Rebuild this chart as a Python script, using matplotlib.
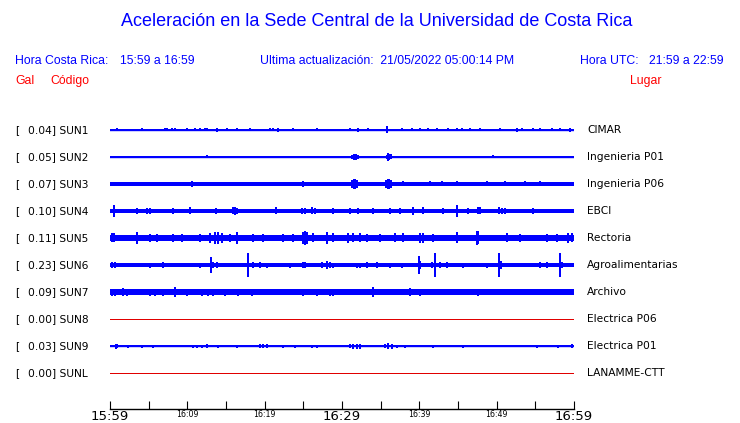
import numpy as np
import matplotlib
matplotlib.use("Agg")
import matplotlib.pyplot as plt
from matplotlib import transforms

# estaciones, de arriba hacia abajo
codes = ["SUN1", "SUN2", "SUN3", "SUN4", "SUN5", "SUN6", "SUN7", "SUN8", "SUN9", "SUNL"]
places = ["CIMAR", "Ingenieria P01", "Ingenieria P06", "EBCI", "Rectoria",
          "Agroalimentarias", "Archivo", "Electrica P06", "Electrica P01", "LANAMME-CTT"]
peak_gal = [0.04, 0.05, 0.07, 0.10, 0.11, 0.23, 0.09, 0.00, 0.03, 0.00]

# nivel de ruido de fondo (media amplitud, cuentas de pantalla)
base_amp = [0.7, 0.5, 2.2, 2.2, 3.3, 2.0, 2.6, 0.0, 0.7, 0.0]

# eventos: minuto desde 15:59 y amplitud (cuentas de pantalla)
ev_min = [
    [0.91, 4.14, 7.11, 7.37, 8.02, 8.41, 9.96, 10.99, 11.64, 12.28, 12.54, 13.84, 15.13,
     16.42, 18.10, 20.69, 21.08, 21.72, 23.66, 26.77, 31.03, 32.07, 33.36, 35.82, 37.76,
     39.05, 40.09, 41.12, 42.28, 43.71, 44.87, 45.52, 46.55, 47.84, 50.43, 52.63, 53.28,
     54.70, 55.60, 57.16, 58.19, 59.48],
    [12.54, 31.29, 31.55, 31.81, 32.07, 35.82, 35.95, 36.08, 36.34, 49.53],
    [10.60, 24.96, 31.29, 31.55, 31.68, 31.94, 35.69, 35.95, 36.08, 36.34, 37.89, 41.38,
     42.93, 44.87, 48.75, 51.08, 53.66, 55.60],
    [0.52, 3.49, 4.78, 5.17, 8.15, 10.34, 13.71, 15.91, 16.16, 16.42, 21.47, 24.83, 25.22,
     26.12, 26.51, 28.84, 31.03, 32.07, 34.01, 36.21, 37.50, 39.18, 40.47, 43.06, 44.87,
     46.29, 47.59, 47.84, 50.30, 50.69, 51.08, 54.70],
    [0.26, 0.52, 3.49, 5.17, 6.08, 8.15, 9.31, 11.64, 12.93, 13.58, 13.97, 14.48, 15.52,
     16.42, 18.49, 19.78, 22.37, 23.66, 24.96, 25.22, 25.47, 26.25, 28.06, 28.84, 30.78,
     31.42, 32.33, 33.23, 34.91, 36.85, 37.89, 40.09, 40.47, 41.77, 44.87, 47.46, 47.59,
     51.34, 53.02, 56.51, 57.80, 59.22, 59.74],
    [0.26, 0.65, 5.17, 6.85, 11.64, 13.06, 13.32, 13.84, 17.84, 18.49, 19.40, 20.30,
     23.28, 24.96, 25.22, 27.41, 28.06, 28.45, 28.84, 31.94, 32.33, 33.23, 34.53, 36.21,
     37.76, 39.96, 40.09, 41.64, 42.03, 42.67, 43.58, 45.65, 48.75, 50.30, 50.56, 55.60,
     56.51, 58.19, 58.45],
    [0.26, 0.65, 1.68, 2.20, 5.17, 5.82, 6.85, 8.41, 9.96, 11.90, 12.67, 13.32, 14.87,
     16.55, 18.36, 21.98, 23.66, 24.96, 26.77, 28.45, 28.84, 31.03, 34.01, 38.79, 40.09,
     42.93, 44.35, 46.16, 47.59, 49.14, 51.72, 55.60, 56.90, 57.80],
    [],
    [0.78, 0.91, 2.33, 4.14, 5.56, 10.73, 11.25, 11.90, 12.54, 13.97, 16.42, 19.40, 19.78,
     20.30, 22.37, 23.92, 26.12, 26.77, 31.03, 31.42, 31.94, 32.33, 35.56, 35.95, 36.47,
     37.11, 38.15, 41.77, 45.65, 55.22, 57.93, 59.74],
    [],
]
ev_amp = [
    [1.5, 1.5, 1.5, 1.5, 1.5, 1.5, 1.5, 1.5, 1.5, 1.5, 1.5, 2, 1.5, 1.5, 1.5, 1.5, 1.5,
     2, 1.5, 1.5, 1.5, 2, 1.5, 3.5, 1.5, 1.5, 1.5, 1.5, 1.5, 1.5, 1.5, 1.5, 1.5, 1.5,
     1.5, 2, 1.5, 1.5, 1.5, 1.5, 1.5, 2],
    [1.5, 2, 3, 3, 2, 2, 4, 3, 2.5, 1.5],
    [3, 3, 4, 5, 5, 4, 4, 5, 5, 4, 2.5, 2.5, 2.5, 2.5, 2.5, 2.5, 2.5, 2.5],
    [6, 3, 3, 3, 3, 3.5, 3, 3.5, 4, 3, 3.5, 3, 3, 3.5, 3, 3, 3, 3, 3, 3, 3, 4, 3.5,
     3, 6, 3, 3.5, 3.5, 3.5, 3, 3, 3],
    [4.5, 4.5, 6, 4, 4, 4, 4, 4, 5, 6, 6, 5, 4, 6, 4, 4, 4, 4, 6, 7, 6, 4.5, 6, 4.5, 5,
     4.5, 4.5, 4, 4, 4.5, 4.5, 5, 5, 4, 5.5, 7, 6.5, 4.5, 4, 4, 4, 5, 4.5],
    [3, 3, 2.5, 3, 2.5, 8, 3, 3, 12, 3, 3, 2.5, 2.5, 3, 3, 3, 3.5, 3, 2.5, 2.5, 2.5, 3,
     3, 2.5, 2.5, 9, 4, 3, 12, 3, 3, 2.5, 2.5, 12, 4, 3, 3, 12, 3],
    [3.5, 3.5, 4, 3.5, 3.5, 3.5, 3.5, 4.5, 3.5, 3.5, 3.5, 3.5, 3.5, 3.5, 3.5, 3, 3, 3.5,
     3.5, 3.5, 3.5, 3, 4.5, 4, 3.5, 3, 3, 3, 3.5, 3, 3, 3, 3, 3],
    [],
    [2.5, 2, 1.5, 1.5, 1.5, 1.5, 1.5, 1.5, 2, 1.5, 1.5, 2, 2, 2, 1.5, 1.5, 1.5, 1.5,
     2, 2.5, 2.5, 2.5, 2, 3, 2.5, 1.5, 1.5, 1.5, 1.5, 1.5, 1.5, 2],
    [],
]

tick_min = np.arange(0, 61, 5)
tick_lab = ["15:59", "", "16:09", "", "16:19", "", "16:29", "", "16:39", "", "16:49", "", "16:59"]

W, H = 740, 423
fig = plt.figure(figsize=(W / 100, H / 100), dpi=100)
fig.patch.set_facecolor("white")

def fx(px):
    return px / W

def fy(py):
    return 1 - py / H

sans = "Liberation Sans"
blue = "#0000ff"
red = "#ff0000"
hs = 8.8

fig.text(fx(377), fy(22), "Aceleración en la Sede Central de la Universidad de Costa Rica",
         ha="center", va="center", color=blue, fontsize=13.0, family=sans)
fig.text(fx(15), fy(61), "Hora Costa Rica:", va="center", color=blue, fontsize=hs, family=sans)
fig.text(fx(120), fy(61), "15:59 a 16:59", va="center", color=blue, fontsize=hs, family=sans)
fig.text(fx(260), fy(61), "Ultima actualización:  21/05/2022 05:00:14 PM", va="center",
         color=blue, fontsize=hs, family=sans)
fig.text(fx(580), fy(61), "Hora UTC:", va="center", color=blue, fontsize=hs, family=sans)
fig.text(fx(724), fy(61), "21:59 a 22:59", ha="right", va="center", color=blue,
         fontsize=hs, family=sans)
fig.text(fx(15), fy(81), "Gal", va="center", color=red, fontsize=hs, family=sans)
fig.text(fx(50), fy(81), "Código", va="center", color=red, fontsize=hs, family=sans)
fig.text(fx(630), fy(81), "Lugar", va="center", color=red, fontsize=hs, family=sans)

ax = fig.add_axes([fx(110), fy(409), fx(574) - fx(110), (409 - 110) / H])
row_px = 27.0
ax.set_xlim(0, 60)
ax.set_ylim((409 - 130) / row_px, (110 - 130) / row_px)

for i in range(len(codes)):
    if peak_gal[i] == 0:
        # estacion sin datos: linea roja
        ax.plot([0, 60], [i, i], color="#e00000", lw=0.7, antialiased=False)
        continue
    b = base_amp[i] / row_px
    ax.fill_between([0, 60], i - b, i + b, color=blue, lw=0)
    ax.plot([0, 60], [i, i], color=blue, lw=1.0)
    a = np.array(ev_amp[i]) / row_px
    ax.vlines(ev_min[i], i - a, i + a, color=blue, lw=1.2, antialiased=False)

tr = transforms.blended_transform_factory(fig.transFigure, ax.transData)
for i in range(len(codes)):
    ax.text(fx(15), i, "[", transform=tr, va="center", fontsize=7.7)
    ax.text(fx(28), i, "%.2f] %s" % (peak_gal[i], codes[i]), transform=tr,
            va="center", fontsize=7.7)
    ax.text(fx(587), i, places[i], transform=tr, va="center", fontsize=7.7)

for s in ["top", "left", "right"]:
    ax.spines[s].set_visible(False)
ax.spines["bottom"].set_linewidth(1.0)
ax.set_yticks([])
ax.set_xticks(tick_min)
ax.set_xticklabels(tick_lab)
ax.tick_params(axis="x", direction="in", length=6, width=0.8, pad=1.0)
for k, lab in enumerate(ax.get_xticklabels()):
    lab.set_fontsize(9.5 if tick_min[k] % 30 == 0 else 5.7)

fig.savefig("out.png", dpi=100)
